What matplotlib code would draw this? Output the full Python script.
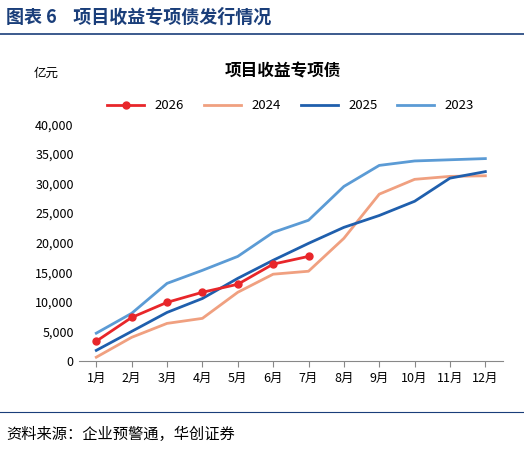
import matplotlib.pyplot as plt
import matplotlib.ticker as mticker

plt.rcParams['font.family'] = ['Noto Sans CJK SC', 'DejaVu Sans']

months = ['1月', '2月', '3月', '4月', '5月', '6月', '7月', '8月', '9月', '10月', '11月', '12月']
s2026 = [3400, 7400, 9950, 11650, 13000, 16400, 17700]
s2024 = [700, 4050, 6400, 7250, 11650, 14700, 15200, 20750, 28200, 30700, 31200, 31300]
s2025 = [1850, 5050, 8250, 10600, 14000, 17050, 19900, 22600, 24600, 27000, 30900, 32000]
s2023 = [4750, 8100, 13150, 15350, 17700, 21750, 23800, 29500, 33050, 33800, 34000, 34200]

fig = plt.figure(figsize=(5.24, 4.5), dpi=100)
fig.text(0.012, 0.962, '图表 6    项目收益专项债发行情况', color='#1a3e7a', fontsize=13,
         fontweight='bold', va='center')
fig.add_artist(plt.Line2D([0.0, 1.0], [0.925, 0.925], color='#1a3e7a', lw=1.2))
fig.add_artist(plt.Line2D([0.0, 1.0], [0.085, 0.085], color='#1a3e7a', lw=0.8))
fig.text(0.012, 0.035, '资料来源：企业预警通，华创证券', fontsize=11, style='italic', va='center')

ax = fig.add_axes([0.15, 0.197, 0.81, 0.527])
x = range(len(months))
ax.plot(x, s2023, color='#5b9bd5', lw=2, label='2023')
ax.plot(x, s2024, color='#f0a080', lw=2, label='2024')
ax.plot(x, s2025, color='#1f5fad', lw=2, label='2025')
ax.plot(range(len(s2026)), s2026, color='#e8262a', lw=2, marker='o', ms=5, label='2026')

ax.set_ylim(0, 40000)
ax.set_xlim(-0.5, 11.5)
ax.set_yticks(range(0, 40001, 5000))
ax.yaxis.set_major_formatter(mticker.FuncFormatter(lambda v, p: f'{int(v):,}'))
ax.set_xticks(list(x))
ax.set_xticklabels(months)
ax.tick_params(labelsize=9, length=0)
ax.tick_params(axis='x', length=4, direction='out', color='#888888')
for s in ['top', 'right', 'left']:
    ax.spines[s].set_visible(False)
ax.spines['bottom'].set_color('#888888')

h, l = ax.get_legend_handles_labels()
order = [3, 1, 2, 0]
ax.legend([h[i] for i in order], [l[i] for i in order], ncol=4, frameon=False,
          loc='lower center', bbox_to_anchor=(0.5, 1.0), fontsize=9.5, handlelength=2.8,
          columnspacing=1.5)
fig.text(0.54, 0.83, '项目收益专项债', fontsize=12, fontweight='bold', ha='center')
fig.text(0.065, 0.83, '亿元', fontsize=9)

fig.savefig('out.png', dpi=100)
